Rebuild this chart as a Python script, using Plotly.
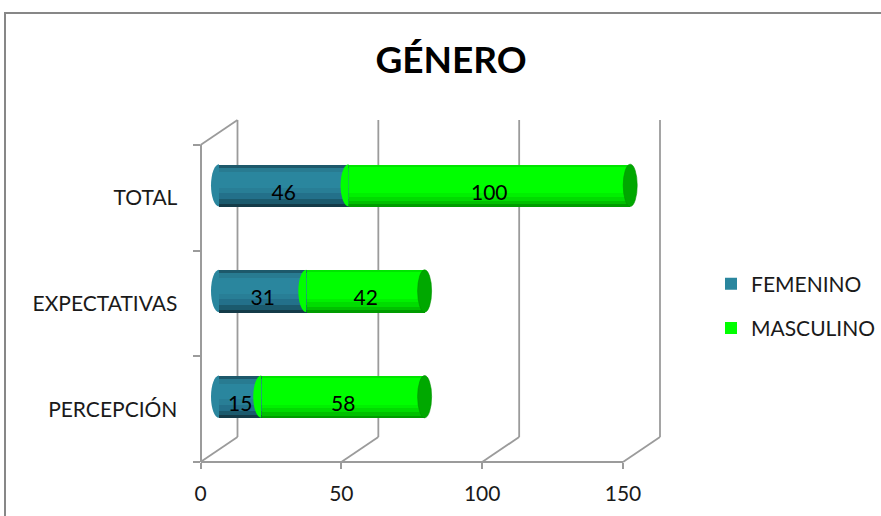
import plotly.graph_objects as go

# ---- data -------------------------------------------------------------
categories = ["PERCEPCIÓN", "EXPECTATIVAS", "TOTAL"]   # bottom to top
femenino = [15, 31, 46]
masculino = [58, 42, 100]
x_ticks = [0, 50, 100, 150]
series_names = ["FEMENINO", "MASCULINO"]

# ---- geometry helpers (figure pixels -> paper fractions) --------------
W, H = 881, 516


def fx(px):
    return px / W


def fy(py):
    return (H - py) / H


X0_MID, X150_MID = 219.0, 641.5      # bar plane (mid depth)
PX_PER_UNIT = (X150_MID - X0_MID) / 150.0
Y_BOT_MID, Y_TOP_MID = 449.5, 132.5
DX, DY = 18.5, 12.5                  # half depth of the 3-D box
BAR_RANGE = [-15, 172]               # wide enough to hold the box outline
BAR_W = 0.4
GRID = "#9b9b9b"
FONT = "Lato"

# shading bands across bar height: (from, to, colour); 0 = bottom edge
blue_bands = [
    (0.00, 0.07, "#143b48"),
    (0.07, 0.18, "#1b5a6d"),
    (0.18, 0.32, "#23708a"),
    (0.32, 0.45, "#287e96"),
    (0.82, 0.93, "#287b91"),
    (0.93, 1.00, "#1d596b"),
]
green_bands = [
    (0.00, 0.06, "#009c00"),
    (0.06, 0.14, "#00c000"),
    (0.14, 0.24, "#00dc00"),
    (0.24, 0.32, "#00f000"),
    (0.95, 1.00, "#00e400"),
]
main_colors = ["#2a869e", "#00ff00"]
cap_color = "#00a800"

fig = go.Figure()

bases = [[0] * len(femenino), femenino]
values = [femenino, masculino]
bands = [blue_bands, green_bands]

for s, name in enumerate(series_names):
    # full body of the cylinder segment
    fig.add_trace(go.Bar(
        y=categories, x=values[s], base=bases[s], orientation="h",
        width=BAR_W, name=name, legendgroup=name,
        marker=dict(color=main_colors[s], line=dict(width=0)),
        hoverinfo="skip",
    ))
    # shading bands
    for lo, hi, col in bands[s]:
        fig.add_trace(go.Bar(
            y=categories, x=values[s], base=bases[s], orientation="h",
            width=BAR_W * (hi - lo), offset=-BAR_W / 2 + BAR_W * lo,
            marker=dict(color=col, line=dict(width=0)),
            showlegend=False, hoverinfo="skip",
        ))

# rounded ends and caps of each segment
K = 0.5523
shapes = []
for s in range(len(series_names)):
    for i in range(len(categories)):
        start = bases[s][i]
        r, h, c = 8, BAR_W / 2, i
        path = (f"M0,{c + h} C{-K * r},{c + h} {-r},{c + K * h} {-r},{c} "
                f"C{-r},{c - K * h} {-K * r},{c - h} 0,{c - h} Z")
        shapes.append(dict(
            type="path", xref="x", yref="y", xsizemode="pixel", xanchor=start,
            path=path, fillcolor=main_colors[s], line=dict(width=0), layer="above",
        ))
for i in range(len(categories)):
    end = femenino[i] + masculino[i]
    shapes.append(dict(
        type="circle", xref="x", yref="y", xsizemode="pixel", xanchor=end,
        x0=-7, x1=7, y0=i - BAR_W / 2, y1=i + BAR_W / 2,
        fillcolor=cap_color, line=dict(width=0.6, color="#009000"), layer="above",
    ))

# value labels
for s in range(len(series_names)):
    fig.add_trace(go.Bar(
        y=categories, x=values[s], base=bases[s], orientation="h",
        width=BAR_W, offset=-BAR_W / 2 - 0.055,
        marker=dict(color="rgba(0,0,0,0)", line=dict(width=0)),
        text=[str(v) for v in values[s]], textposition="inside",
        insidetextanchor="middle", constraintext="none",
        textfont=dict(family=FONT, size=21, color="#000000"),
        showlegend=False, hoverinfo="skip",
    ))

# helper trace so the front axes get a subplot of their own
fig.add_trace(go.Scatter(
    x=[0] * len(categories), y=categories, xaxis="x2", yaxis="y2",
    mode="markers", marker=dict(opacity=0), showlegend=False, hoverinfo="skip",
))

# back wall gridlines and floor lines of the 3-D box
for v in x_ticks:
    shapes.append(dict(
        type="line", xref="x", xsizemode="pixel", xanchor=v, x0=DX, x1=DX,
        yref="paper", y0=fy(Y_BOT_MID - DY), y1=fy(Y_TOP_MID - DY),
        line=dict(color=GRID, width=1.8), layer="below",
    ))
    shapes.append(dict(
        type="line", xref="x", xsizemode="pixel", xanchor=v, x0=-DX, x1=DX,
        yref="paper", y0=fy(Y_BOT_MID + DY), y1=fy(Y_BOT_MID - DY),
        line=dict(color=GRID, width=1.8), layer="below",
    ))
# side wall top edge
shapes.append(dict(
    type="line", xref="x", xsizemode="pixel", xanchor=x_ticks[0], x0=-DX, x1=DX,
    yref="paper", y0=fy(Y_TOP_MID + DY), y1=fy(Y_TOP_MID - DY),
    line=dict(color=GRID, width=1.8), layer="below",
))
# chart area border
shapes.append(dict(
    type="rect", xref="paper", yref="paper",
    x0=fx(5), y0=fy(13), x1=1.05, y1=-0.05,
    line=dict(color="#878787", width=2), fillcolor="rgba(0,0,0,0)", layer="below",
))

fig.update_layout(
    width=W, height=H, autosize=False, template="none",
    margin=dict(l=0, r=0, t=0, b=0),
    paper_bgcolor="white", plot_bgcolor="rgba(0,0,0,0)",
    barmode="overlay", bargap=0,
    title=dict(text="<b>GÉNERO</b>", x=fx(451), xanchor="center",
               y=fy(60), yanchor="middle",
               font=dict(family=FONT, size=37, color="#000000")),
    xaxis=dict(domain=[fx(X0_MID + BAR_RANGE[0] * PX_PER_UNIT),
                       fx(X0_MID + BAR_RANGE[1] * PX_PER_UNIT)],
               range=BAR_RANGE, visible=False, fixedrange=True),
    yaxis=dict(domain=[fy(Y_BOT_MID), fy(Y_TOP_MID)], type="category",
               categoryorder="array", categoryarray=categories,
               range=[-0.5, len(categories) - 0.5], visible=False),
    xaxis2=dict(domain=[fx(X0_MID - DX), fx(X150_MID - DX)], range=[0, 150],
                anchor="free", position=fy(Y_BOT_MID + DY),
                tickvals=x_ticks, ticktext=[str(t) for t in x_ticks],
                showline=True, linecolor=GRID, linewidth=1.8,
                ticks="outside", ticklen=6, tickwidth=1.8, tickcolor=GRID,
                showgrid=False, zeroline=False, automargin=False,
                ticklabelstandoff=7,
                tickfont=dict(family=FONT, size=21, color="#1a1a1a")),
    yaxis2=dict(domain=[fy(Y_BOT_MID + DY), fy(Y_TOP_MID + DY)], type="category",
                categoryorder="array", categoryarray=categories,
                range=[-0.5, len(categories) - 0.5],
                anchor="free", position=fx(X0_MID - DX),
                showline=True, linecolor=GRID, linewidth=1.8,
                ticks="outside", tickson="boundaries", ticklen=7, tickwidth=1.8,
                tickcolor=GRID, showgrid=False, zeroline=False, automargin=False,
                ticklabelstandoff=18,
                tickfont=dict(family=FONT, size=21, color="#1a1a1a")),
    legend=dict(x=fx(711), y=fy(306), xanchor="left", yanchor="middle",
                traceorder="grouped", tracegroupgap=14,
                font=dict(family=FONT, size=21, color="#1a1a1a"),
                bgcolor="rgba(0,0,0,0)"),
    shapes=shapes,
    showlegend=True,
)

fig.write_html("out.html")
